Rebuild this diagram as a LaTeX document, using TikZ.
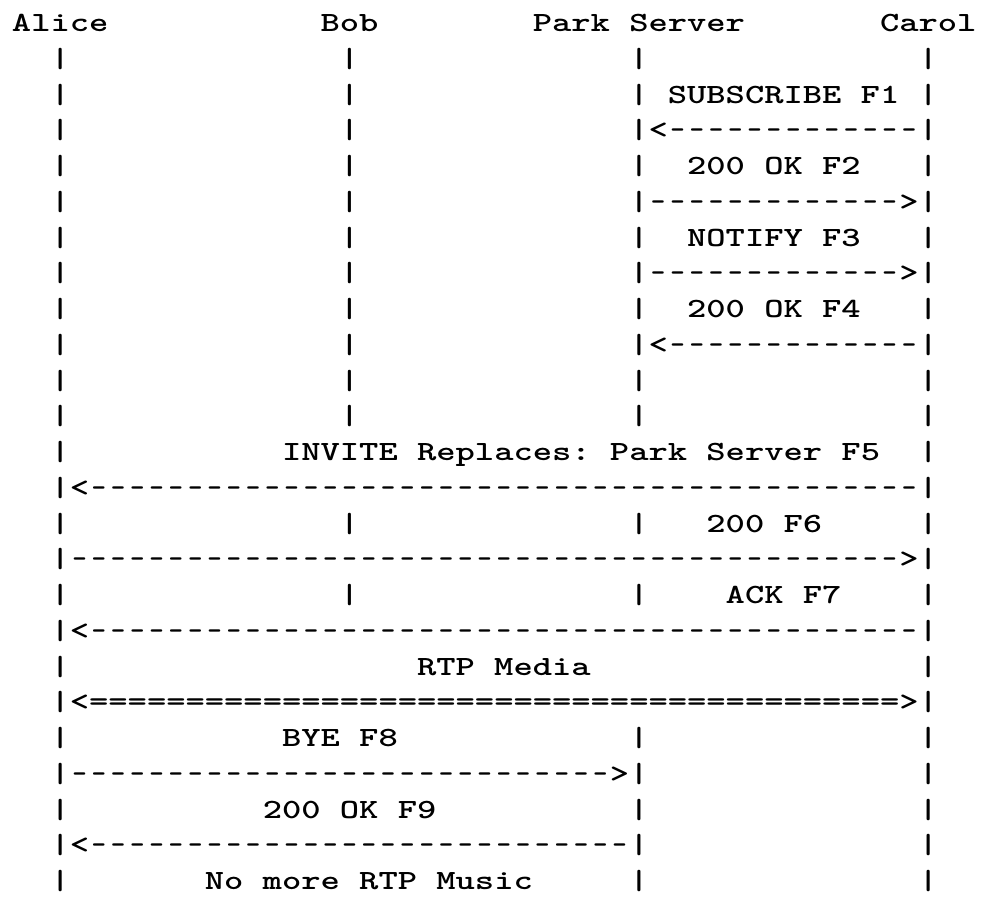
\documentclass[tikz,border=0pt]{standalone}
\usepackage{graphicx}
\tikzset{
  asc/.style={inner sep=0pt, outer sep=0pt, anchor=base west,
    font=\ttfamily\bfseries\fontsize{27.8}{33}\selectfont\frenchspacing},
}
\newcommand\stx[1]{\scalebox{1.3217}[1]{#1}}
\newcommand\hy{\makebox[0.525em]{\scalebox{0.75}[1]{-}}}
\newcommand\rep[2]{\foreach\k in {1,...,#1}{#2}}
% \putc{name}{row}{col}{text}
\newcommand\putc[4]{\node[asc] (#1) at ({12+#3*19.29},{31.5+#2*35.75}) {\stx{#4}};}
\begin{document}
\begin{tikzpicture}[x=1pt,y=-1pt]
\useasboundingbox[fill=white] (0,0) rectangle (987,897);
% header
\putc{alice}{0}{0}{Alice}
\putc{bob}{0}{16}{Bob}
\putc{park}{0}{27}{Park Server}
\putc{carol}{0}{45}{Carol}
% lifeline segments
\foreach \r in {1,...,11,14,16} {
  \foreach \c in {2,17,32,47} {\putc{bar-\r-\c}{\r}{\c}{|}}
}
\foreach \r in {12,13,15,17,18,19} {
  \foreach \c in {2,47} {\putc{bar-\r-\c}{\r}{\c}{|}}
}
\foreach \r in {20,...,24} {
  \foreach \c in {2,32,47} {\putc{bar-\r-\c}{\r}{\c}{|}}
}
% messages
\putc{l1}{2}{34}{SUBSCRIBE F1}
\putc{a1}{3}{33}{<\rep{13}{\hy}}
\putc{l2}{4}{35}{200 OK F2}
\putc{a2}{5}{33}{\rep{13}{\hy}>}
\putc{l3}{6}{35}{NOTIFY F3}
\putc{a3}{7}{33}{\rep{13}{\hy}>}
\putc{l4}{8}{35}{200 OK F4}
\putc{a4}{9}{33}{<\rep{13}{\hy}}
\putc{l5}{12}{14}{INVITE Replaces: Park Server F5}
\putc{a5}{13}{3}{<\rep{43}{\hy}}
\putc{l6}{14}{36}{200 F6}
\putc{a6}{15}{3}{\rep{43}{\hy}>}
\putc{l7}{16}{37}{ACK F7}
\putc{a7}{17}{3}{<\rep{43}{\hy}}
\putc{lm}{18}{21}{RTP Media}
\putc{am}{19}{3}{<\rep{42}{=}>}
\putc{l8}{20}{14}{BYE F8}
\putc{a8}{21}{3}{\rep{28}{\hy}>}
\putc{l9}{22}{13}{200 OK F9}
\putc{a9}{23}{3}{<\rep{28}{\hy}}
\putc{ln}{24}{10}{No more RTP Music}
\end{tikzpicture}
\end{document}
